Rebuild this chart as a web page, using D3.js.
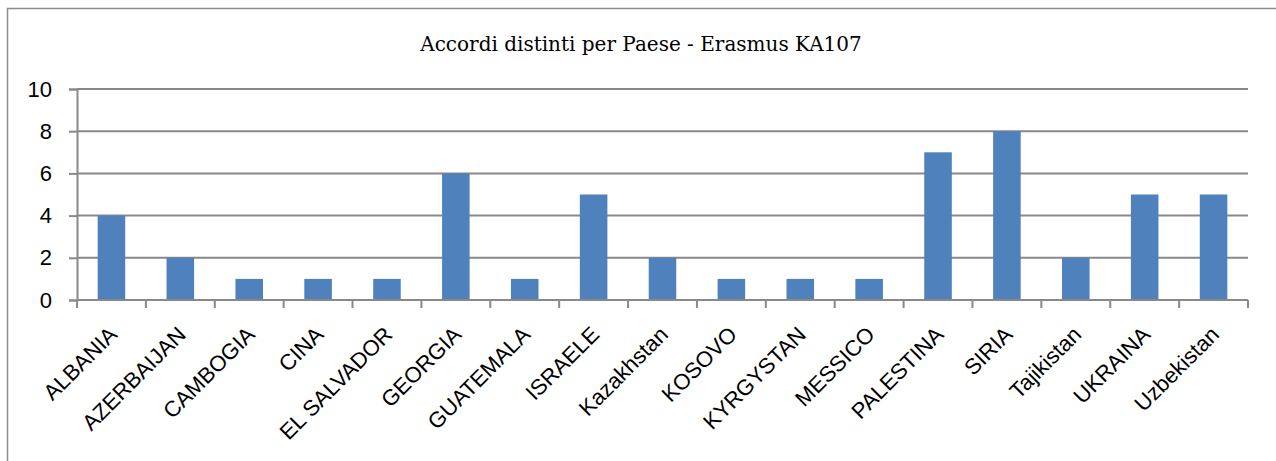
<!DOCTYPE html>
<html><head><meta charset="utf-8">
<script src="https://cdn.jsdelivr.net/npm/d3@7"></script>
<style>body{margin:0;background:#fff;} svg{display:block;}</style>
</head><body>
<svg id="chart" width="1276" height="461"></svg>
<script>
const title = "Accordi distinti per Paese - Erasmus KA107";
const categories = ["ALBANIA","AZERBAIJAN","CAMBOGIA","CINA","EL SALVADOR","GEORGIA","GUATEMALA","ISRAELE","Kazakhstan","KOSOVO","KYRGYSTAN","MESSICO","PALESTINA","SIRIA","Tajikistan","UKRAINA","Uzbekistan"];
const values = [4,2,1,1,1,6,1,5,2,1,1,1,7,8,2,5,5];
const yTicks = [0,2,4,6,8,10];

const svg = d3.select("#chart");
const W = 1276, H = 461;
const m = {left:77, right:W-1248, top:89, bottom:H-300};
const gridColor = "#898989";

svg.append("rect").attr("x",7.5).attr("y",8.5).attr("width",W+20).attr("height",H+20)
  .attr("fill","#fff").attr("stroke","#8c8c8c").attr("stroke-width",1.5);

svg.append("text").attr("x",641).attr("y",51).attr("text-anchor","middle")
  .attr("font-family","'DejaVu Serif', serif").attr("font-size",20).attr("fill","#000").text(title);

const x = d3.scaleBand().domain(categories).range([m.left, W-m.right]).paddingInner(0.6).paddingOuter(0.3);
const y = d3.scaleLinear().domain([0,10]).range([H-m.bottom, m.top]);

// gridlines
svg.append("g").selectAll("line").data(yTicks.filter(d=>d>0)).join("line")
  .attr("x1",m.left).attr("x2",W-m.right).attr("y1",d=>y(d)).attr("y2",d=>y(d))
  .attr("stroke",gridColor).attr("stroke-width",2);

// bars
svg.append("g").selectAll("rect").data(values).join("rect")
  .attr("x",(d,i)=>x(categories[i])).attr("width",x.bandwidth())
  .attr("y",d=>y(d)).attr("height",d=>y(0)-y(d)).attr("fill","#4F81BD");

// y axis
const yAxis = svg.append("g").attr("transform",`translate(${m.left},0)`)
  .call(d3.axisLeft(y).tickValues(yTicks).tickSize(8).tickPadding(17));
yAxis.select(".domain").attr("stroke",gridColor).attr("stroke-width",2);
yAxis.selectAll(".tick line").attr("stroke",gridColor).attr("stroke-width",2);
yAxis.selectAll("text").attr("font-family","'Liberation Sans', Arial, sans-serif").attr("font-size",22).attr("fill","#000");

// x axis
const xBound = d3.scaleLinear().domain([0,categories.length]).range([m.left, W-m.right]);
const xg = svg.append("g");
xg.append("line").attr("x1",m.left).attr("x2",W-m.right).attr("y1",y(0)).attr("y2",y(0))
  .attr("stroke",gridColor).attr("stroke-width",2);
xg.selectAll("line.tk").data(d3.range(categories.length+1)).join("line").attr("class","tk")
  .attr("x1",d=>xBound(d)).attr("x2",d=>xBound(d)).attr("y1",y(0)).attr("y2",y(0)+8)
  .attr("stroke",gridColor).attr("stroke-width",2);
xg.selectAll("text").data(categories).join("text")
  .attr("transform",d=>`translate(${x(d)+x.bandwidth()/2-4},${y(0)+25}) rotate(-45)`)
  .attr("text-anchor","end").attr("dy","0.7em")
  .attr("font-family","'Liberation Sans', Arial, sans-serif").attr("font-size",22).attr("fill","#000")
  .text(d=>d);
</script>
</body></html>
